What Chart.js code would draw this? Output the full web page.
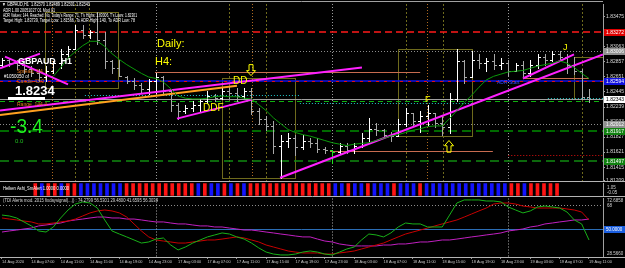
<!DOCTYPE html>
<html>
<head>
<meta charset="utf-8">
<title>GBPAUD H1</title>
<script src="https://cdn.jsdelivr.net/npm/chart.js@4.4.1/dist/chart.umd.min.js"></script>
<style>
  html, body { margin: 0; padding: 0; background: #000; }
  #wrap { position: relative; width: 625px; height: 268px; overflow: hidden; background: #000; }
  #wrap canvas { position: absolute; left: 0; }
</style>
</head>
<body>
<div id="wrap">
  <canvas id="mainChart" width="625" height="185" style="top:0px"></canvas>
  <canvas id="haChart" width="625" height="17" style="top:181px"></canvas>
  <canvas id="tdiChart" width="625" height="71" style="top:197px"></canvas>
</div>
<script>
// ---- data (GBPAUD H1, 14 Aug 03:00 .. 19 Aug 11:00) ----

const tickIdx = [0, 4, 8, 12, 16, 20, 24, 28, 32, 36, 40, 44, 48, 52, 56, 60, 64, 68, 72, 76, 80];
const tickText = ['14 Aug 2020', '14 Aug 07:00', '14 Aug 11:00', '14 Aug 15:00', '14 Aug 19:00', '14 Aug 23:00',
  '17 Aug 03:00', '17 Aug 07:00', '17 Aug 11:00', '17 Aug 15:00', '17 Aug 19:00', '17 Aug 23:00',
  '18 Aug 03:00', '18 Aug 07:00', '18 Aug 11:00', '18 Aug 15:00', '18 Aug 19:00', '18 Aug 23:00',
  '19 Aug 03:00', '19 Aug 07:00', '19 Aug 11:00'];

const barOpen = [1.8282, 1.8289, 1.8284, 1.8281, 1.8276, 1.8270, 1.8265, 1.8273, 1.8284, 1.8297,
  1.8304, 1.8330, 1.8323, 1.8327, 1.8316, 1.8287, 1.8278, 1.8265, 1.8259, 1.8254,
  1.8249, 1.8259, 1.8265, 1.8246, 1.8226, 1.8219, 1.8222, 1.8227, 1.8232, 1.8239,
  1.8236, 1.8246, 1.8243, 1.8239, 1.8246, 1.8219, 1.8208, 1.8198, 1.8171, 1.8178,
  1.8182, 1.8169, 1.8178, 1.8175, 1.8167, 1.8165, 1.8162, 1.8171, 1.8165, 1.8170,
  1.8182, 1.8194, 1.8192, 1.8186, 1.8184, 1.8200, 1.8216, 1.8205, 1.8212, 1.8216,
  1.8202, 1.8197, 1.8235, 1.8287, 1.8265, 1.8289, 1.8284, 1.8287, 1.8282, 1.8284,
  1.8273, 1.8281, 1.8270, 1.8282, 1.8292, 1.8289, 1.8296, 1.8292, 1.8281, 1.8273,
  1.82370];
const barHigh = [1.8291, 1.8291, 1.8289, 1.8287, 1.8280, 1.8276, 1.8280, 1.8287, 1.8303, 1.8307,
  1.8337, 1.8337, 1.8330, 1.8354, 1.8327, 1.8289, 1.8289, 1.8266, 1.8263, 1.8257,
  1.8262, 1.8270, 1.8266, 1.8249, 1.8230, 1.8226, 1.8232, 1.8235, 1.8246, 1.8242,
  1.8250, 1.8253, 1.8250, 1.8250, 1.8250, 1.8222, 1.8211, 1.8205, 1.8185, 1.8188,
  1.8185, 1.8185, 1.8182, 1.8181, 1.8169, 1.8165, 1.8175, 1.8174, 1.8175, 1.8188,
  1.8209, 1.8202, 1.8194, 1.8189, 1.8208, 1.8223, 1.8216, 1.8219, 1.8226, 1.8216,
  1.8212, 1.8243, 1.8304, 1.8289, 1.8301, 1.8296, 1.8291, 1.8296, 1.8291, 1.8289,
  1.8284, 1.8287, 1.8289, 1.8297, 1.8297, 1.8300, 1.8300, 1.8297, 1.8293, 1.8276,
  1.82489];
const barLow = [1.8280, 1.8280, 1.8276, 1.8270, 1.8266, 1.8259, 1.8259, 1.8270, 1.8277, 1.8293,
  1.8304, 1.8318, 1.8319, 1.8310, 1.8277, 1.8270, 1.8266, 1.8257, 1.8249, 1.8243,
  1.8242, 1.8243, 1.8242, 1.8219, 1.8208, 1.8216, 1.8219, 1.8219, 1.8230, 1.8232,
  1.8235, 1.8236, 1.8232, 1.8236, 1.8215, 1.8201, 1.8192, 1.8161, 1.8127, 1.8169,
  1.8158, 1.8167, 1.8169, 1.8162, 1.8161, 1.8147, 1.8161, 1.8161, 1.8161, 1.8169,
  1.8175, 1.8185, 1.8181, 1.8178, 1.8184, 1.8198, 1.8198, 1.8189, 1.8198, 1.8196,
  1.8185, 1.8188, 1.8232, 1.8257, 1.8265, 1.8277, 1.8273, 1.8276, 1.8276, 1.8266,
  1.8273, 1.8266, 1.8266, 1.8277, 1.8282, 1.8287, 1.8289, 1.8270, 1.8269, 1.8235,
  1.82301];
const barClose = [1.8289, 1.8284, 1.8281, 1.8276, 1.8270, 1.8265, 1.8273, 1.8284, 1.8297, 1.8303,
  1.8330, 1.8323, 1.8327, 1.8316, 1.8287, 1.8278, 1.8267, 1.8259, 1.8254, 1.8249,
  1.8259, 1.8265, 1.8246, 1.8226, 1.8219, 1.8222, 1.8227, 1.8232, 1.8239, 1.8236,
  1.8246, 1.8243, 1.8239, 1.8246, 1.8219, 1.8208, 1.8198, 1.8171, 1.8178, 1.8182,
  1.8169, 1.8178, 1.8175, 1.8167, 1.8165, 1.8162, 1.8171, 1.8165, 1.8170, 1.8182,
  1.8194, 1.8192, 1.8186, 1.8184, 1.8200, 1.8216, 1.8205, 1.8212, 1.8216, 1.8202,
  1.8197, 1.8235, 1.8287, 1.8265, 1.8289, 1.8284, 1.8287, 1.8282, 1.8284, 1.8273,
  1.8281, 1.8270, 1.8282, 1.8292, 1.8289, 1.8296, 1.8292, 1.8281, 1.8273, 1.8238,
  1.82343];

// green moving average on the price window
const maLine = [null, null, null, null, null, null, null, 1.8266, 1.8278, 1.8291,
  1.8300, 1.8308, 1.8314, 1.8314, 1.8307, 1.8297, 1.8289, 1.8282, 1.8276, 1.8270,
  1.8265, 1.8263, 1.8258, 1.8249, 1.8239, 1.8236, 1.8235, 1.8235, 1.8236, 1.8238,
  1.8239, 1.8238, 1.8238, 1.8236, 1.8235, 1.8227, 1.8219, 1.8209, 1.8201, 1.8193,
  1.8189, 1.8186, 1.8184, 1.8181, 1.8178, 1.8175, 1.8173, 1.8171, 1.8173, 1.8174,
  1.8175, 1.8178, 1.8181, 1.8184, 1.8186, 1.8189, 1.8192, 1.8194, 1.8197, 1.8198,
  1.8198, 1.8208, 1.8219, 1.8230, 1.8240, 1.8251, 1.8261, 1.8266, 1.8269, 1.8272,
  1.8273, 1.8274, 1.8277, 1.8280, 1.8282, 1.8284, 1.8287, 1.8284, 1.8278, 1.8270,
  1.8263];

// price axis
const priceMin = 1.81225;
const priceMax = 1.83651;
const priceTicks = [1.83475, 1.83269, 1.83063, 1.82857, 1.82651, 1.82445, 1.82239, 1.82033, 1.81827, 1.81621, 1.81415, 1.81236];
const priceTickText = ['1.83475', '1.83269', '1.83063', '1.82857', '1.82651', '1.82445', '1.82239', '1.82033', '1.81827', '1.81621', '1.81415', '1.81209'];

// price tags on the right axis
const tagPrice = [1.83272, 1.83006, 1.82594, 1.82343, 1.82012, 1.81917, 1.81497];
const tagText = ['1.83272', '1.83006', '1.82594', '1.82343', '1.82012', '1.81917', '1.81497'];

// horizontal levels: price, start bar, end bar
const xMin = -0.27;
const xMax = 81.91;
const levelPrice = [1.8327, 1.8300, 1.8272, 1.8259, 1.8259, 1.8240, 1.8230, 1.8236, 1.82343, 1.8232, 1.8201, 1.8191, 1.8163, 1.8158, 1.8150, 1.8263];
const levelFrom = [xMin, xMin, 20.85, xMin, xMin, 11.3, 40.6, 74.4, xMin, xMin, xMin, xMin, 44.7, 69, xMin, 71];
const levelTo = [xMax, xMax, 57, xMax, xMax, 40.6, 64.05, xMax, xMax, xMax, xMax, xMax, 66.9, xMax, xMax, 80];

// vertical separators (bar index)
const daySepIdx = [21, 45, 69];
const h4SepIdx = [6.8, 34.1, 57.9];
const olSepIdx = [9.95, 11.86, 30.94, 35.98, 55.06, 60.1, 79.05];

// boxes drawn on the chart
const boxFrom = [5.86, 29.98, 53.97, 77.96];
const boxTo = [15.81, 39.93, 64.05, 84];
const boxTop = [1.8354, 1.8263, 1.8304, 1.8293];
const boxBottom = [1.8250, 1.8127, 1.8184, 1.8235];

// trend lines
const trendFromIdx = [-0.27, -0.27, -0.27, 0.41, 23.85, 37.9, 71.0];
const trendFromPrice = [1.8219, 1.8213, 1.8277, 1.8293, 1.8208, 1.8127, 1.8263];
const trendToIdx = [49.06, 32.03, 5.18, 9.0, 34.07, 81.91, 77.96];
const trendToPrice = [1.8278, 1.8253, 1.8297, 1.8255, 1.8234, 1.8296, 1.8296];

// yellow chart labels and arrows
const labelIdx = [21.12, 20.85, 31.48, 27.39, 57.65, 76.46, 67.46];
const labelPrice = [1.8310, 1.8285, 1.8259, 1.8222, 1.8234, 1.8305, 1.8258];
const labelText = ['Daily:', 'H4:', 'DD', 'DDF', 'F', 'J', 'ADR Start'];
const arrowIdx = [33.94, 60.92];
const arrowTop = [1.8282, 1.8178];
const arrowBottom = [1.8267, 1.8162];

// Heiken Ashi histogram: 1 = blue, 0 = red
const haUp = [0, 1, 0, 0, 1, 0, 0, 1, 1, 1,
  1, 1, 1, 1, 0, 0, 0, 0, 0, 0,
  0, 0, 0, 0, 0, 1, 0, 1, 1, 0,
  1, 0, 1, 0, 0, 0, 0, 0, 0, 0,
  0, 0, 0, 0, 0, 0, 1, 1, 0, 1,
  1, 0, 1, 1, 1, 0, 1, 1, 1, 0,
  1, 1, 1, 1, 1, 1, 1, 1, 1, 1,
  1, 1, 1, 0, 0, 1, 0, 0, 0, 0,
  0];

// TDI window
const tdiMin = 28.566;
const tdiMax = 72.6858;
const tdiRsi = [60.2, 59.5, 58.0, 55.0, 52.0, 48.2, 47.4, 51.2, 58.0, 64.0,
  68.5, 70.1, 69.3, 65.5, 56.5, 48.2, 45.9, 43.7, 41.4, 39.1,
  39.9, 42.1, 42.9, 37.6, 33.9, 36.1, 39.1, 41.4, 43.7, 45.2,
  46.7, 45.9, 43.7, 42.1, 39.1, 35.4, 32.3, 30.8, 30.1, 30.1,
  30.8, 32.3, 33.1, 32.3, 30.8, 30.1, 32.3, 34.6, 36.1, 41.4,
  45.9, 45.2, 43.7, 46.7, 51.2, 54.2, 53.5, 53.5, 51.2, 51.2,
  51.2, 60.2, 69.3, 71.6, 71.6, 71.6, 70.8, 70.8, 70.1, 66.3,
  64.0, 61.8, 63.3, 66.3, 67.0, 66.3, 65.5, 62.5, 56.5, 53.5,
  41.4];
const tdiSignal = [58.0, 57.2, 56.5, 55.7, 55.0, 53.5, 53.5, 54.2, 55.0, 55.7,
  57.2, 59.5, 61.8, 63.3, 64.0, 63.3, 61.8, 58.7, 53.5, 48.2,
  43.7, 41.4, 40.6, 39.9, 39.1, 39.1, 39.9, 40.6, 41.4, 41.4,
  42.1, 42.9, 43.7, 42.9, 41.4, 39.9, 37.6, 36.1, 34.6, 33.1,
  32.3, 31.6, 31.6, 31.6, 30.8, 30.8, 31.6, 32.3, 33.1, 34.6,
  36.1, 37.6, 39.1, 41.4, 43.7, 45.9, 47.4, 48.9, 50.4, 52.0,
  53.5, 55.0, 56.5, 58.7, 61.0, 63.3, 65.5, 68.5, 69.3, 69.3,
  68.5, 67.0, 66.3, 65.5, 65.5, 65.5, 65.5, 64.8, 64.0, 62.5,
  56.5];
const tdiBase = [47.4, 48.2, 48.9, 49.7, 50.4, 52.0, 52.7, 53.5, 54.2, 55.7,
  56.5, 57.2, 58.0, 58.7, 58.7, 58.0, 58.0, 57.2, 57.2, 56.5,
  55.7, 55.0, 55.0, 54.2, 53.5, 53.5, 52.7, 52.0, 52.0, 51.2,
  51.2, 50.4, 49.7, 48.9, 48.9, 48.2, 47.4, 46.7, 45.9, 45.2,
  44.4, 43.7, 43.7, 42.1, 40.6, 39.9, 38.4, 37.6, 36.9, 36.9,
  36.9, 36.9, 37.6, 37.6, 38.4, 38.4, 39.1, 39.9, 39.9, 40.6,
  41.4, 41.4, 42.1, 42.9, 43.7, 44.4, 45.2, 45.9, 46.7, 48.2,
  48.9, 49.7, 51.2, 52.0, 53.5, 54.2, 55.0, 55.7, 56.5, 56.5,
  57.2];
const tdiMid = 50;
const tdiHigh = 68;

// ---- drawing ----
Chart.defaults.animation = false;
Chart.defaults.responsive = false;
Chart.defaults.devicePixelRatio = 1;
Chart.defaults.plugins.legend.display = false;
Chart.defaults.plugins.tooltip.enabled = false;
Chart.defaults.font.family = 'Liberation Sans';
Chart.defaults.font.size = 5;
Chart.defaults.color = '#d0d0d0';

const FONT = 'Liberation Sans';
const levelStyle = [
  { c: '#ff1a1a', w: 1.5, d: [7, 4] },
  { c: '#8c8c8c', w: 1, d: [1, 2] },
  { c: '#c86c50', w: 1, d: [] },
  { c: '#1010e8', w: 1.5, d: [] },
  { c: '#e01010', w: 1, d: [3, 5] },
  { c: '#20c8c8', w: 1, d: [1, 2] },
  { c: '#20c8c8', w: 1, d: [1, 2] },
  { c: '#20c8c8', w: 1, d: [1, 2] },
  { c: '#a0a0a0', w: 1, d: [] },
  { c: '#10b010', w: 1, d: [5, 4] },
  { c: '#8c8c8c', w: 1, d: [1, 2] },
  { c: '#006a00', w: 2, d: [9, 5] },
  { c: '#c86c50', w: 1, d: [] },
  { c: '#e01010', w: 1, d: [1, 2] },
  { c: '#108a10', w: 1.5, d: [9, 5] },
  { c: '#c86c50', w: 1, d: [] }
];
const trendColor = ['#ff20ff', '#ffa020', '#ff20ff', '#ff20ff', '#ff20ff', '#ff20ff', '#ff20ff'];
const tagBg = ['#e00000', '#909090', '#1010e0', '#ffffff', '#909090', '#108010', '#108010'];
const tagFg = ['#ffffff', '#ffffff', '#ffffff', '#000000', '#ffffff', '#ffffff', '#ffffff'];

function seg(ctx, x1, y1, x2, y2, color, width, dash) {
  ctx.save();
  ctx.strokeStyle = color;
  ctx.lineWidth = width;
  ctx.setLineDash(dash || []);
  ctx.beginPath();
  ctx.moveTo(x1, y1);
  ctx.lineTo(x2, y2);
  ctx.stroke();
  ctx.restore();
}

function crisp(v) { return Math.round(v) + 0.5; }

function txt(ctx, s, x, y, font, color, maxW, align) {
  ctx.save();
  ctx.font = font;
  ctx.fillStyle = color;
  ctx.textBaseline = 'middle';
  ctx.textAlign = align || 'left';
  if (maxW) ctx.fillText(s, x, y, maxW); else ctx.fillText(s, x, y);
  ctx.restore();
}

function arrowShape(ctx, cx, yTop, yBot, up) {
  const h = yBot - yTop, head = h * 0.45;
  ctx.save();
  ctx.strokeStyle = '#ffff00';
  ctx.lineWidth = 1;
  ctx.beginPath();
  if (up) {
    ctx.moveTo(cx, yTop);
    ctx.lineTo(cx + 4.5, yTop + head);
    ctx.lineTo(cx + 2, yTop + head);
    ctx.lineTo(cx + 2, yBot);
    ctx.lineTo(cx - 2, yBot);
    ctx.lineTo(cx - 2, yTop + head);
    ctx.lineTo(cx - 4.5, yTop + head);
  } else {
    ctx.moveTo(cx, yBot);
    ctx.lineTo(cx + 4.5, yBot - head);
    ctx.lineTo(cx + 2, yBot - head);
    ctx.lineTo(cx + 2, yTop);
    ctx.lineTo(cx - 2, yTop);
    ctx.lineTo(cx - 2, yBot - head);
    ctx.lineTo(cx - 4.5, yBot - head);
  }
  ctx.closePath();
  ctx.stroke();
  ctx.restore();
}

const mainDecor = {
  id: 'mainDecor',
  beforeDatasetsDraw(chart) {
    const { ctx, chartArea: a, scales: { x, y } } = chart;
    ctx.save();
    ctx.beginPath();
    ctx.rect(a.left, a.top, a.right - a.left, a.bottom - a.top);
    ctx.clip();

    olSepIdx.forEach(v => { const p = crisp(x.getPixelForValue(v)); seg(ctx, p, a.top, p, a.bottom, '#6e6a1c', 1, [2, 2]); });
    h4SepIdx.forEach(v => { const p = crisp(x.getPixelForValue(v)); seg(ctx, p, a.top, p, a.bottom, '#b06a20', 1, [1, 2]); });
    daySepIdx.forEach(v => { const p = crisp(x.getPixelForValue(v)); seg(ctx, p, a.top, p, a.bottom, '#9a9a9a', 1, [1, 2]); });

    boxFrom.forEach((v, k) => {
      const x1 = crisp(x.getPixelForValue(v)), x2 = crisp(x.getPixelForValue(boxTo[k]));
      const y1 = crisp(y.getPixelForValue(boxTop[k])), y2 = crisp(y.getPixelForValue(boxBottom[k]));
      ctx.strokeStyle = '#6e6a1c';
      ctx.lineWidth = 1;
      ctx.strokeRect(x1, y1, x2 - x1, y2 - y1);
    });

    levelPrice.forEach((p, k) => {
      const st = levelStyle[k];
      const py = st.w === 1 ? crisp(y.getPixelForValue(p)) : Math.round(y.getPixelForValue(p));
      seg(ctx, x.getPixelForValue(levelFrom[k]), py, x.getPixelForValue(levelTo[k]), py, st.c, st.w, st.d);
    });

    // OHLC bars
    for (let i = 0; i < barOpen.length; i++) {
      const px = Math.round(x.getPixelForValue(i));
      const yh = Math.round(y.getPixelForValue(barHigh[i]));
      const yl = Math.round(y.getPixelForValue(barLow[i]));
      const yo = crisp(y.getPixelForValue(barOpen[i]));
      const yc = crisp(y.getPixelForValue(barClose[i]));
      let col = barClose[i] >= barOpen[i] ? '#ffffff' : '#a8a8a8';
      if (i === 45) col = '#20e020';
      ctx.strokeStyle = col;
      ctx.lineWidth = 1;
      ctx.beginPath();
      ctx.moveTo(px + 0.5, yh);
      ctx.lineTo(px + 0.5, yl + 1);
      ctx.moveTo(px - 2, yo);
      ctx.lineTo(px + 0.5, yo);
      ctx.moveTo(px + 0.5, yc);
      ctx.lineTo(px + 3, yc);
      ctx.stroke();
    }
    ctx.restore();
  },
  afterDatasetsDraw(chart) {
    const { ctx, scales: { x, y } } = chart;
    labelText.forEach((s, k) => {
      const big = k < 2 ? '11px ' : (k < 4 ? '10px ' : (k < 6 ? '9px ' : '5px '));
      const col = k === 6 ? '#3a4cff' : '#ffff00';
      txt(ctx, s, x.getPixelForValue(labelIdx[k]), y.getPixelForValue(labelPrice[k]), big + FONT, col);
    });
    arrowIdx.forEach((v, k) => {
      arrowShape(ctx, x.getPixelForValue(v), y.getPixelForValue(arrowTop[k]), y.getPixelForValue(arrowBottom[k]), k === 1);
    });

    // corner texts of the terminal window
    txt(ctx, '\u25BC GBPAUD,H1  1.82370 1.82489 1.82301 1.82343', 2, 5, '5px ' + FONT, '#ffffff', 88);
    txt(ctx, 'ADR 1.00 20051027 01 Mod 01', 3, 10.5, '4.5px ' + FONT, '#ffffff', 52);
    txt(ctx, "ADR Values: 144, Reached: No, Today's Range: 71, T's Highs: 1.83006, T's Lows: 1.82301", 3, 15.5, '4.5px ' + FONT, '#ffffff', 134);
    txt(ctx, 'Target High: 1.83739, Target Low: 1.81566, To ADR High: 140, To ADR Low: 78', 3, 21, '4.5px ' + FONT, '#ffffff', 132);
    txt(ctx, 'GBPAUD  H1', 18, 62, 'bold 9px ' + FONT, '#ffffff', 54);
    txt(ctx, 'Spread: 3.4', 17, 72, '5px ' + FONT, '#e07820', 33);
    txt(ctx, '#1050050 of', 4, 77, '4.5px ' + FONT, '#ffffff', 40);
    txt(ctx, 'Candle 43:0', 17, 81.5, '5px ' + FONT, '#e07820', 33);
    txt(ctx, '1.8234', 15, 91.5, 'bold 13px ' + FONT, '#ffffff', 41);
    ctx.fillStyle = '#ffffff';
    ctx.fillRect(8, 97, 37, 3);
    txt(ctx, 'Range  144.4', 17, 105, '5px ' + FONT, '#e07820', 38);
    txt(ctx, '-3.4', 10, 127, '20px ' + FONT, '#20f020', 33);
    txt(ctx, '0.0', 15, 141, '6px ' + FONT, '#20c020', 10);
  },
  afterDraw(chart) {
    const { ctx, chartArea: a, scales: { y } } = chart;
    tagPrice.forEach((p, k) => {
      const py = Math.round(y.getPixelForValue(p));
      ctx.fillStyle = tagBg[k];
      ctx.fillRect(604, py - 3, 21, 7);
      txt(ctx, tagText[k], 606, py + 0.5, '5px ' + FONT, tagFg[k], 18);
    });
    seg(ctx, 0, 1.5, a.right, 1.5, '#a0a0a0', 1);
    seg(ctx, 0, 181.5, 625, 181.5, '#b4b4b4', 1);
  }
};

new Chart(document.getElementById('mainChart'), {
  type: 'line',
  data: {
    datasets: [
      { data: maLine.map((v, i) => ({ x: i, y: v })), borderColor: '#0a9a0a', borderWidth: 1, pointRadius: 0 },
      ...trendFromIdx.map((x0, k) => ({
        data: [{ x: x0, y: trendFromPrice[k] }, { x: trendToIdx[k], y: trendToPrice[k] }],
        borderColor: trendColor[k], borderWidth: 2, pointRadius: 0
      }))
    ]
  },
  options: {
    layout: { padding: { top: 2, bottom: 4, left: 0, right: 0 } },
    scales: {
      x: { type: 'linear', min: xMin, max: xMax, display: false },
      y: {
        position: 'right', min: priceMin, max: priceMax,
        afterBuildTicks: s => { s.ticks = priceTicks.map(v => ({ value: v })); },
        afterFit: s => { s.width = 22; },
        ticks: { padding: 1, color: '#d8d8d8', font: { size: 5 }, callback: (v, i) => priceTickText[i] },
        grid: { drawOnChartArea: false, drawTicks: true, tickLength: 2, color: '#a0a0a0' },
        border: { display: true, color: '#a0a0a0' }
      }
    }
  },
  plugins: [mainDecor]
});

const haDecor = {
  id: 'haDecor',
  afterDraw(chart) {
    const { ctx, chartArea: a } = chart;
    txt(ctx, 'Heiken Ashi_SmAlert 1.0000 0.0000', 3, a.top + 5.5, '4.5px ' + FONT, '#ffffff', 66);
    txt(ctx, '1.05', 607, a.top + 4.5, '4.5px ' + FONT, '#d0d0d0');
    txt(ctx, '-0.05', 607, a.bottom - 3, '4.5px ' + FONT, '#d0d0d0');
    seg(ctx, 0, a.bottom + 0.5, 625, a.bottom + 0.5, '#b4b4b4', 1);
  }
};

new Chart(document.getElementById('haChart'), {
  type: 'bar',
  data: {
    datasets: [{
      data: haUp.map((v, i) => ({ x: i, y: 1 })),
      backgroundColor: haUp.map(v => v ? '#1414ff' : '#ff1414'),
      barThickness: 3, grouped: false
    }]
  },
  options: {
    layout: { padding: { top: 2, bottom: 2, left: 0, right: 0 } },
    scales: {
      x: { type: 'linear', min: xMin, max: xMax, display: false },
      y: {
        position: 'right', min: -0.05, max: 1.05,
        afterFit: s => { s.width = 22; },
        ticks: { display: false },
        grid: { drawOnChartArea: false, drawTicks: false },
        border: { display: true, color: '#a0a0a0' }
      }
    }
  },
  plugins: [haDecor]
});

const tdiDecor = {
  id: 'tdiDecor',
  beforeDatasetsDraw(chart) {
    const { ctx, chartArea: a, scales: { x, y } } = chart;
    const y50 = crisp(y.getPixelForValue(tdiMid));
    seg(ctx, a.left, y50, a.right, y50, '#2a6cb4', 1);
    const y68 = crisp(y.getPixelForValue(tdiHigh));
    seg(ctx, a.left, y68, a.right, y68, '#8c8c8c', 1, [1, 2]);
    daySepIdx.forEach(v => { const p = crisp(x.getPixelForValue(v)); seg(ctx, p, a.top, p, a.bottom, '#b0b0b0', 1, [1, 2]); });
  },
  afterDraw(chart) {
    const { ctx, chartArea: a, scales: { y } } = chart;
    txt(ctx, '(TDI Alerts mod. 2015 fixdaysignal(...)) : 74.2799 56.5301 29.4800 41.6595 56.3034', 3, a.top + 2.5, '4.5px ' + FONT, '#d8d8d8', 155);
    txt(ctx, '72.6858', 607, a.top + 2.5, '4.5px ' + FONT, '#d0d0d0', 17);
    txt(ctx, '68', 607, a.top + 7, '4.5px ' + FONT, '#d0d0d0');
    const y50 = Math.round(y.getPixelForValue(tdiMid));
    ctx.fillStyle = '#1a5ee0';
    ctx.fillRect(604, y50 - 3, 21, 7);
    txt(ctx, '50.0000', 606, y50 + 0.5, '4.5px ' + FONT, '#ffffff', 18);
    txt(ctx, '28.5660', 607, a.bottom - 3, '4.5px ' + FONT, '#d0d0d0', 17);
    seg(ctx, 0, a.bottom + 0.5, 625, a.bottom + 0.5, '#b4b4b4', 1);
  }
};

new Chart(document.getElementById('tdiChart'), {
  type: 'line',
  data: {
    datasets: [
      { data: tdiRsi.map((v, i) => ({ x: i, y: v })), borderColor: '#18b018', borderWidth: 1, pointRadius: 0 },
      { data: tdiSignal.map((v, i) => ({ x: i, y: v })), borderColor: '#c80000', borderWidth: 1, pointRadius: 0 },
      { data: tdiBase.map((v, i) => ({ x: i, y: v })), borderColor: '#c020c0', borderWidth: 1, pointRadius: 0 }
    ]
  },
  options: {
    layout: { padding: { top: 1.5, bottom: 0, left: 0, right: 0 } },
    scales: {
      x: {
        type: 'linear', min: xMin, max: xMax, position: 'bottom',
        afterBuildTicks: s => { s.ticks = tickIdx.map(v => ({ value: v })); },
        afterFit: s => { s.height = 11; },
        ticks: { autoSkip: false, maxRotation: 0, align: 'start', padding: 1, color: '#c8c8c8', font: { size: 3.9 },
          callback: v => tickText[tickIdx.indexOf(v)] },
        grid: { drawOnChartArea: false, drawTicks: true, tickLength: 2, color: '#909090' },
        border: { display: false }
      },
      y: {
        position: 'right', min: tdiMin, max: tdiMax,
        afterFit: s => { s.width = 22; },
        ticks: { display: false },
        grid: { drawOnChartArea: false, drawTicks: false },
        border: { display: true, color: '#a0a0a0' }
      }
    }
  },
  plugins: [tdiDecor]
});
</script>
</body>
</html>
